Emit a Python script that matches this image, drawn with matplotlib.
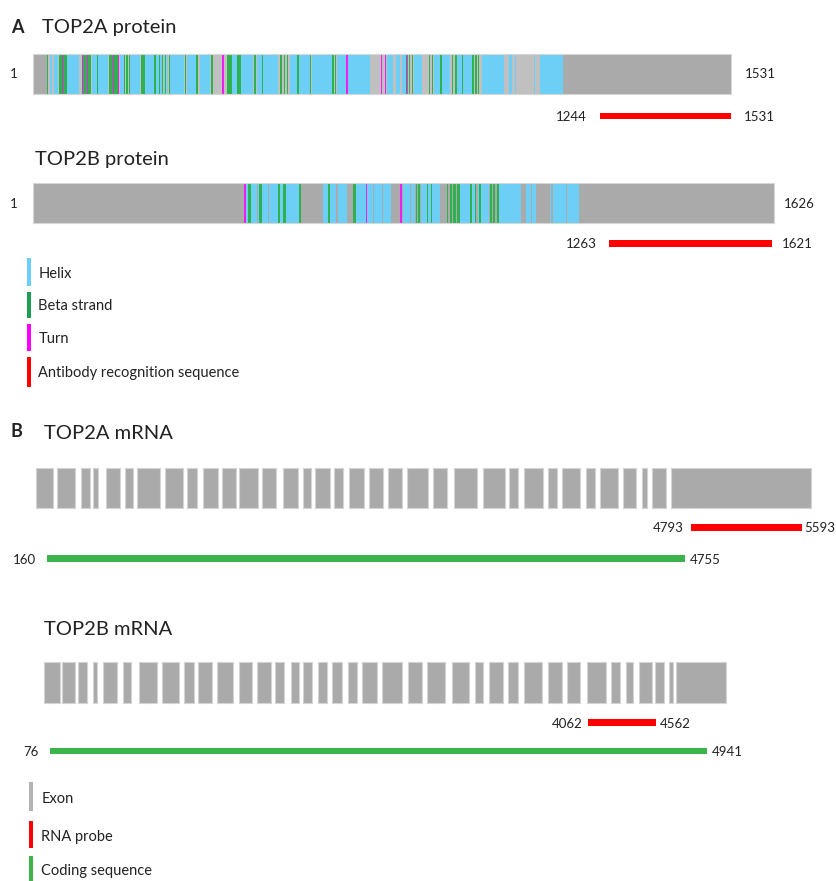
import matplotlib
matplotlib.use("Agg")
import matplotlib.pyplot as plt
from matplotlib.patches import Rectangle

plt.rcParams['font.family'] = ['Lato', 'DejaVu Sans']

W, H = 837, 881

HELIX = '#6dcff6'
STRAND = '#2fb14f'
TURN = '#f01ef0'
RED = '#ff0000'
GRAY = '#aaaaaa'
LIGHT = '#c0c0c0'
CDS = '#3cb44b'
TEXT = '#222222'

# ---------------- protein secondary structure (residue numbers) ----------------
top2a_len = 1531
top2a_structured = (30, 1162)
top2a_helix = [(36, 42), (46, 54), (74, 100), (129, 140), (143, 165), (191, 198),
               (213, 235), (246, 264), (270, 275), (279, 282), (286, 290), (293, 296),
               (301, 330), (337, 359), (366, 388), (436, 447), (455, 483), (490, 501),
               (505, 538), (564, 578), (584, 607), (611, 655), (666, 688), (691, 739),
               (776, 790), (795, 804), (808, 818), (835, 853), (879, 893), (897, 915),
               (930, 941), (944, 963), (984, 1032), (1043, 1050), (1056, 1059),
               (1098, 1100), (1111, 1162)]
top2a_strand = [(29, 33), (56, 63), (65, 74), (109, 119), (121, 127), (139, 142),
                (166, 176), (178, 187), (198, 201), (204, 207), (209, 212), (236, 245),
                (265, 269), (276, 279), (282, 285), (289, 292), (297, 300), (333, 336),
                (358, 361), (391, 394), (425, 436), (448, 455), (485, 488), (501, 504),
                (542, 546), (550, 553), (557, 560), (578, 584), (607, 610), (656, 659),
                (662, 665), (820, 823), (824, 827), (830, 833), (868, 871), (875, 878),
                (893, 896), (919, 922), (926, 929), (940, 943), (963, 966), (970, 973),
                (976, 979)]
top2a_turn = [(62, 65), (106, 109), (118, 121), (175, 178), (186, 189), (415, 418),
              (687, 690), (762, 765), (771, 774), (817, 820)]
top2a_antibody = (1244, 1531)

top2b_len = 1626
top2b_helix = [(467, 472), (477, 490), (492, 496), (501, 515), (518, 537), (542, 547),
               (554, 583), (636, 647), (652, 665), (668, 689), (708, 729), (733, 745),
               (748, 765), (768, 786), (812, 826), (829, 837), (850, 863), (866, 874),
               (876, 892), (936, 958), (961, 972), (976, 1001), (1023, 1071),
               (1082, 1092), (1095, 1104), (1133, 1137), (1140, 1170), (1171, 1197)]
top2b_strand = [(472, 477), (496, 501), (538, 542), (547, 554), (583, 588), (647, 652),
                (702, 708), (839, 842), (845, 849), (863, 866), (872, 875), (907, 911),
                (914, 918), (921, 927), (930, 936), (959, 962), (969, 972), (979, 983),
                (1003, 1006), (1009, 1013), (1018, 1022)]
top2b_turn = [(462, 466), (729, 733), (805, 810)]
top2b_antibody = (1263, 1621)

# ---------------- mRNA exon structure (nucleotide positions) ----------------
top2a_exons = [(81, 207), (236, 363), (406, 471), (495, 527), (586, 687), (723, 783),
               (812, 975), (1011, 1138), (1171, 1239), (1282, 1394), (1423, 1519),
               (1545, 1678), (1706, 1807), (1862, 1970), (2001, 2059), (2090, 2198),
               (2229, 2294), (2337, 2442), (2478, 2581), (2617, 2716), (2750, 2905),
               (2941, 3037), (3092, 3253), (3296, 3457), (3488, 3553), (3596, 3732),
               (3764, 3829), (3869, 3996), (4037, 4104), (4140, 4272), (4308, 4399),
               (4445, 4476), (4517, 4613), (4649, 5658)]
top2a_probe = (4793, 5593)
top2a_cds = (160, 4755)

top2b_exons = [(34, 150), (163, 261), (286, 348), (393, 422), (471, 570), (615, 676),
               (738, 867), (908, 1032), (1071, 1143), (1175, 1279), (1316, 1434),
               (1476, 1570), (1607, 1711), (1743, 1812), (1859, 1921), (1953, 2019),
               (2059, 2126), (2167, 2237), (2281, 2353), (2390, 2496), (2533, 2681),
               (2726, 2830), (2867, 3002), (3052, 3182), (3224, 3286), (3328, 3434),
               (3471, 3541), (3587, 3719), (3763, 3867), (3904, 4002), (4052, 4193),
               (4232, 4299), (4341, 4397), (4439, 4538), (4558, 4624), (4661, 4693),
               (4711, 5081)]
top2b_probe = (4062, 4562)
top2b_cds = (76, 4941)

fig = plt.figure(figsize=(W / 100, H / 100), dpi=100)
fig.patch.set_facecolor('white')


def track(name, x0, ppu):
    """Full-figure axes: x in sequence units (origin at pixel x0), y in pixels."""
    ax = fig.add_axes([0, 0, 1, 1], label=name)
    ax.set_xlim(-x0 / ppu, (W - x0) / ppu)
    ax.set_ylim(H, 0)
    ax.axis('off')
    ax.patch.set_alpha(0)
    return ax


def spans(pairs):
    return [(a, b - a) for a, b in pairs]


def label(ax, x, y, s, side, gap=7, size=9.5):
    dx = -gap if side == 'left' else gap
    ha = 'right' if side == 'left' else 'left'
    ax.annotate(s, xy=(x, y), xytext=(dx, 0), textcoords='offset points',
                ha=ha, va='center_baseline', fontsize=size, color=TEXT)


def line_bar(ax, rng, y, color, h=6.5):
    ax.broken_barh([(rng[0], rng[1] - rng[0])], (y - h / 2, h), facecolors=color,
                   edgecolor='none')


# background axes in pixel units for headings and legends
bg = fig.add_axes([0, 0, 1, 1], label='bg')
bg.set_xlim(0, W)
bg.set_ylim(H, 0)
bg.axis('off')

bg.text(11, 33, 'A', fontsize=13, fontweight='bold', color=TEXT)
bg.text(42, 32.5, 'TOP2A protein', fontsize=14.5, color=TEXT)
bg.text(35, 164.5, 'TOP2B protein', fontsize=14.5, color=TEXT)
bg.text(11, 437, 'B', fontsize=13, fontweight='bold', color=TEXT)
bg.text(44, 439, 'TOP2A mRNA', fontsize=14.5, color=TEXT)
bg.text(44, 635, 'TOP2B mRNA', fontsize=14.5, color=TEXT)

# ---------------- protein tracks ----------------
pax = track('protein', 33.3, 0.4557)
bar_h = 40

# TOP2A
y = 53.5
pax.broken_barh([(0, top2a_len)], (y, bar_h), facecolors=GRAY, edgecolor='none')
pax.broken_barh(spans([top2a_structured]), (y, bar_h), facecolors=LIGHT, edgecolor='none')
pax.broken_barh(spans(top2a_helix), (y, bar_h), facecolors=HELIX, edgecolor='none')
pax.broken_barh(spans(top2a_strand), (y, bar_h), facecolors=STRAND, edgecolor='none')
pax.broken_barh(spans(top2a_turn), (y, bar_h), facecolors=TURN, edgecolor='none')
pax.broken_barh([(0, top2a_len)], (y, bar_h), facecolors='none', edgecolor='#d6d6d6', lw=0.8)
label(pax, 0, y + bar_h / 2, '1', 'left', gap=11)
label(pax, top2a_len, y + bar_h / 2, str(top2a_len), 'right', gap=10)
line_bar(pax, top2a_antibody, 116, RED)
label(pax, top2a_antibody[0], 116, str(top2a_antibody[0]), 'left', gap=10)
label(pax, top2a_antibody[1], 116, str(top2a_antibody[1]), 'right', gap=9)

# TOP2B
y = 183.3
pax.broken_barh([(0, top2b_len)], (y, bar_h), facecolors=GRAY, edgecolor='none')
pax.broken_barh(spans(top2b_helix), (y, bar_h), facecolors=HELIX, edgecolor='none')
pax.broken_barh(spans(top2b_strand), (y, bar_h), facecolors=STRAND, edgecolor='none')
pax.broken_barh(spans(top2b_turn), (y, bar_h), facecolors=TURN, edgecolor='none')
pax.broken_barh([(0, top2b_len)], (y, bar_h), facecolors='none', edgecolor='#d6d6d6', lw=0.8)
label(pax, 0, y + bar_h / 2, '1', 'left', gap=11)
label(pax, top2b_len, y + bar_h / 2, str(top2b_len), 'right', gap=7)
line_bar(pax, top2b_antibody, 243.3, RED)
label(pax, top2b_antibody[0], 243.3, str(top2b_antibody[0]), 'left', gap=9)
label(pax, top2b_antibody[1], 243.3, str(top2b_antibody[1]), 'right', gap=7)

# ---------------- mRNA tracks ----------------
exon_edge = '#d4d4d4'

ma = track('top2a_mrna', 24.5, 0.139)
ma.broken_barh(spans(top2a_exons), (468, 40), facecolors=GRAY, edgecolor=exon_edge, lw=0.8)
line_bar(ma, top2a_probe, 527.3, RED)
label(ma, top2a_probe[0], 527.3, str(top2a_probe[0]), 'left', gap=5)
label(ma, top2a_probe[1], 527.3, str(top2a_probe[1]), 'right', gap=2)
line_bar(ma, top2a_cds, 558.7, CDS)
label(ma, top2a_cds[0], 558.7, str(top2a_cds[0]), 'left', gap=8)
label(ma, top2a_cds[1], 558.7, str(top2a_cds[1]), 'right', gap=3)

mb = track('top2b_mrna', 39.7, 0.135)
mb.broken_barh(spans(top2b_exons), (662, 40.5), facecolors=GRAY, edgecolor=exon_edge, lw=0.8)
line_bar(mb, top2b_probe, 722.7, RED)
label(mb, top2b_probe[0], 722.7, str(top2b_probe[0]), 'left', gap=4)
label(mb, top2b_probe[1], 722.7, str(top2b_probe[1]), 'right', gap=3)
line_bar(mb, top2b_cds, 751, CDS)
label(mb, top2b_cds[0], 751, str(top2b_cds[0]), 'left', gap=8)
label(mb, top2b_cds[1], 751, str(top2b_cds[1]), 'right', gap=4)

# ---------------- legends ----------------
protein_keys = ['Helix', 'Beta strand', 'Turn', 'Antibody recognition sequence']
protein_key_colors = [HELIX, '#1e9e55', '#ff00ff', RED]
protein_key_rows = [(258, 286), (292, 318), (324, 351), (357, 387)]
for name, col, (y0, y1) in zip(protein_keys, protein_key_colors, protein_key_rows):
    bg.add_patch(Rectangle((26.7, y0), 4.5, y1 - y0, facecolor=col, edgecolor='none'))
    bg.text(38.3, (y0 + y1) / 2, name, fontsize=10.5, color=TEXT, va='center_baseline')

mrna_keys = ['Exon', 'RNA probe', 'Coding sequence']
mrna_key_colors = ['#b3b3b3', RED, CDS]
mrna_key_rows = [(781.7, 810.7), (820.7, 848.3), (856, 881)]
for name, col, (y0, y1) in zip(mrna_keys, mrna_key_colors, mrna_key_rows):
    bg.add_patch(Rectangle((29.3, y0), 4, y1 - y0, facecolor=col, edgecolor='none'))
    bg.text(41.5, (y0 + y1) / 2 + 1, name, fontsize=10.5, color=TEXT, va='center_baseline')

fig.savefig('out.png', dpi=100, facecolor='white')
